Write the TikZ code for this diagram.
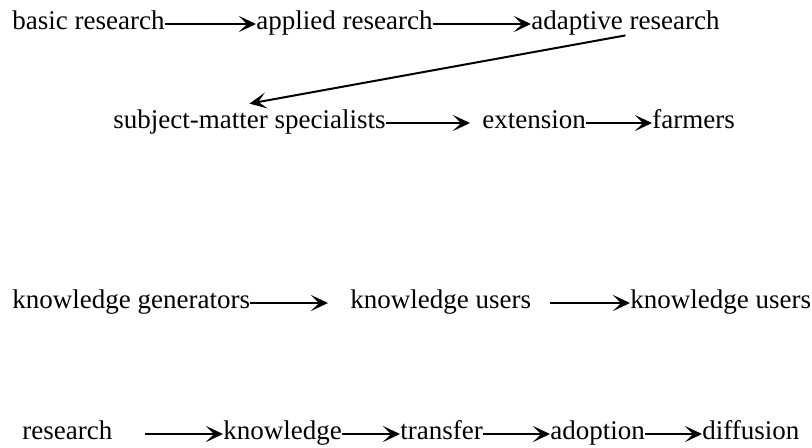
\documentclass[tikz,border=0pt]{standalone}
\usepackage{fontspec}
\setmainfont{Liberation Serif}
\usetikzlibrary{arrows.meta}
\tikzset{
  term/.style={anchor=base west,inner sep=0pt,text height=6pt,text depth=1pt,
    font=\fontsize{13.5}{16}\selectfont},
  flow/.style={-{Stealth[length=8.5pt,width=8pt,inset=4pt]},line width=1pt},
}
\begin{document}
\begin{tikzpicture}[x=0.5pt,y=-0.5pt]
\useasboundingbox (0,0) rectangle (812,447);
% research to farmers
\node[term] (basic) at (12,29) {basic research};
\node[term] (applied) at (256,29) {applied research};
\node[term] (adaptive) at (531,29) {adaptive research};
\node[term] (spec) at (113,128) {subject-matter specialists};
\node[term] (ext) at (482,128) {extension};
\node[term] (farm) at (652,128) {farmers};
\draw[flow] (basic) -- (applied);
\draw[flow] (applied) -- (adaptive);
\draw[flow] ([yshift=-2pt]adaptive.south) -- ([yshift=6pt]spec.north);
\draw[flow,shorten >=6pt] (spec) -- (ext);
\draw[flow] (ext) -- (farm);
% knowledge chain
\node[term] (gen) at (12,308) {knowledge generators};
\node[term] (user) at (350,308) {knowledge users};
\node[term] (user2) at (630,308) {knowledge users};
\draw[flow,shorten >=11pt] (gen) -- (user);
\draw[flow,shorten <=9pt] (user) -- (user2);
% adoption chain
\node[term] (res) at (22,439) {research};
\node[term] (know) at (223,439) {knowledge};
\node[term] (trans) at (400,439) {transfer};
\node[term] (adopt) at (550,439) {adoption};
\node[term] (diff) at (702,439) {diffusion};
\draw[flow,shorten <=16pt] (res) -- (know);
\draw[flow] (know) -- (trans);
\draw[flow] (trans) -- (adopt);
\draw[flow] (adopt) -- (diff);
\end{tikzpicture}
\end{document}
